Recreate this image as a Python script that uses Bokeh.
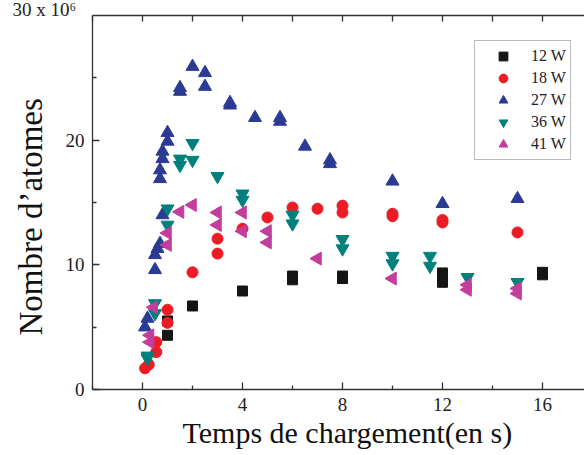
import math
from bokeh.plotting import figure
from bokeh.models import LinearAxis, FixedTicker, Legend, LegendItem, Range1d, Title
from bokeh.embed import file_html
from bokeh.resources import INLINE

# ---- data (time in s, atoms in units of 10^6) ----
t12 = [1.0, 1.0, 2.0, 4.0, 6.0, 6.0, 8.0, 8.0, 12.0, 12.0, 16.0, 16.0]
n12 = [4.35, 5.5, 6.7, 7.9, 9.1, 8.8, 9.1, 8.9, 9.35, 8.6, 9.4, 9.2]

t18 = [0.1, 0.25, 0.55, 0.55, 1.0, 1.0, 2.0, 3.0, 3.0, 4.0, 5.0, 6.0, 7.0, 8.0, 8.0, 10.0, 10.0, 12.0, 12.0, 15.0]
n18 = [1.7, 2.0, 3.0, 3.8, 5.35, 6.4, 9.4, 10.9, 12.1, 12.9, 13.8, 14.6, 14.5, 14.75, 14.2, 14.1, 13.9, 13.6, 13.4, 12.6]

t27 = [0.1, 0.2, 0.5, 0.5, 0.6, 0.7, 0.8, 0.7, 0.7, 0.8, 0.8, 1.0, 1.0, 1.5, 1.5, 2.0, 2.5, 2.5, 3.5, 3.5, 4.5, 5.5, 5.5, 6.5, 7.5, 7.5, 10.0, 12.0, 15.0]
n27 = [5.0, 5.7, 9.6, 10.8, 11.3, 11.7, 14.0, 16.9, 17.6, 18.5, 19.1, 19.9, 20.6, 23.9, 24.2, 25.9, 25.4, 24.3, 22.8, 23.0, 21.8, 21.8, 21.5, 19.5, 18.4, 18.1, 16.7, 14.9, 15.3]

t36 = [0.2, 0.2, 0.5, 0.5, 1.0, 1.0, 1.5, 1.5, 2.0, 2.0, 3.0, 4.0, 4.0, 6.0, 6.0, 8.0, 8.0, 10.0, 10.0, 11.5, 11.5, 13.0, 15.0]
n36 = [2.7, 2.5, 6.9, 6.1, 14.5, 13.2, 18.5, 18.0, 19.75, 18.4, 17.1, 15.7, 15.2, 14.0, 13.3, 12.05, 11.3, 10.7, 10.1, 10.7, 9.9, 9.0, 8.6]

t41 = [0.3, 0.3, 0.45, 1.0, 1.0, 1.5, 2.0, 3.0, 3.0, 4.0, 4.0, 5.0, 5.0, 7.0, 10.0, 13.0, 13.0, 15.0, 15.0]
n41 = [4.35, 3.8, 6.6, 12.55, 11.6, 14.25, 14.8, 14.2, 13.2, 14.2, 12.7, 12.7, 11.8, 10.5, 8.9, 8.4, 8.0, 8.1, 7.7]

labels = ["12 W", "18 W", "27 W", "36 W", "41 W"]
x_ticks = [0, 4, 8, 12, 16]
x_minor = [-2, 2, 6, 10, 14]
y_ticks = [0, 10, 20]
y_minor = [5, 15, 25]
x_label = "Temps de chargement(en s)"
y_label = "Nombre d\u2019atomes"
y_scale_label = "30 x 10\u2076"

SERIF = "Liberation Serif"

p = figure(width=584, height=455, output_backend="svg", toolbar_location=None,
           x_range=Range1d(-2, 17.68), y_range=Range1d(0, 30),
           min_border_left=92, min_border_right=0, min_border_top=0, min_border_bottom=66,
           x_axis_location=None, y_axis_location=None)
p.outline_line_color = None
p.xgrid.visible = False
p.ygrid.visible = False
p.background_fill_color = "white"
p.border_fill_color = "white"

def style(ax, ticks, minor):
    ax.ticker = FixedTicker(ticks=ticks, minor_ticks=minor)
    ax.axis_line_color = "#333333"
    ax.axis_line_width = 1.3
    ax.major_tick_in = 7
    ax.major_tick_out = 0
    ax.minor_tick_in = 4
    ax.minor_tick_out = 0
    ax.major_tick_line_color = "#333333"
    ax.minor_tick_line_color = "#333333"
    ax.major_tick_line_width = 1.3
    ax.minor_tick_line_width = 1.3
    ax.major_label_text_font = SERIF
    ax.major_label_text_font_size = "19px"
    ax.major_label_text_color = "#222222"

xb = LinearAxis()
style(xb, x_ticks, x_minor)
xb.major_label_standoff = 8
p.add_layout(xb, "below")

# top frame edge: ticks only (drawn as unlabeled minor ticks)
xt = LinearAxis()
style(xt, [], sorted(x_ticks + x_minor))
xt.minor_tick_in = 6
xt.major_label_standoff = 0
p.add_layout(xt, "above")

yl = LinearAxis()
style(yl, y_ticks, y_minor)
yl.major_label_standoff = 8
p.add_layout(yl, "left")

p.add_layout(Title(text=x_label, align="left", offset=90, standoff=0,
                   text_font=SERIF, text_font_size="30px", text_font_style="normal",
                   text_color="#111111"), "below")
p.add_layout(Title(text=y_label, align="left", offset=54, standoff=24, vertical_align="top",
                   text_font=SERIF, text_font_size="33px", text_font_style="normal",
                   text_color="#111111"), "left")
p.add_layout(Title(text=y_scale_label, align="left", offset=-80, standoff=-8,
                   text_font=SERIF, text_font_size="19px", text_font_style="normal",
                   text_color="#222222"), "above")

r12 = p.scatter(t12, n12, marker="square", size=10, fill_color="#151515", line_color="#151515")
r18 = p.scatter(t18, n18, marker="circle", size=11, fill_color="#ec1c24", line_color="#ec1c24")
r27 = p.scatter(t27, n27, marker="triangle", size=13, fill_color="#2b3a92", line_color="#2b3a92")
r36 = p.scatter(t36, n36, marker="inverted_triangle", size=13, fill_color="#00807c", line_color="#00807c")
r41 = p.scatter(t41, n41, marker="triangle", angle=math.pi / 2, size=13, fill_color="#c23d9c", line_color="#c23d9c")

legend = Legend(items=[LegendItem(label=l, renderers=[r]) for l, r in zip(labels, [r12, r18, r27, r36, r41])],
                location=(382, 229))
legend.label_text_font = SERIF
legend.label_text_font_size = "16px"
legend.label_text_color = "#222222"
legend.glyph_width = 48
legend.glyph_height = 22
legend.label_height = 22
legend.label_standoff = 4
legend.spacing = 0
legend.padding = 4
legend.margin = 0
legend.border_line_color = "#777777"
legend.border_line_width = 1
legend.background_fill_color = "white"
legend.background_fill_alpha = 1
p.add_layout(legend, "center")

open("out.html", "w").write(file_html(p, INLINE))
